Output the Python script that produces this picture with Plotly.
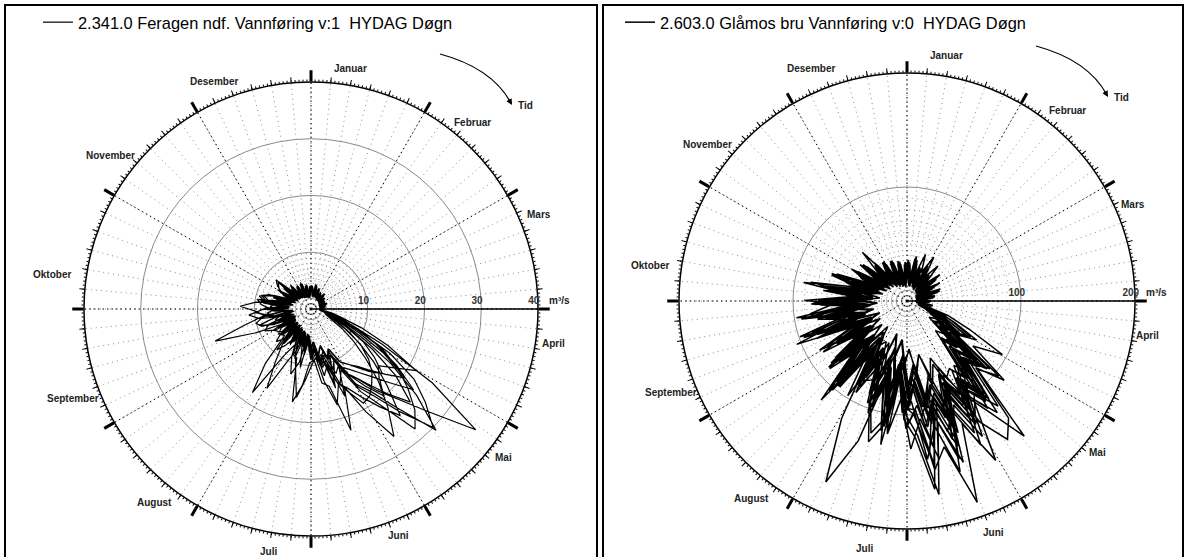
import math
import plotly.graph_objects as go

W, H = 1188, 557
FONT = "Liberation Sans, Arial, sans-serif"

MONTHS = ["Januar", "Februar", "Mars", "April", "Mai", "Juni", "Juli",
          "August", "September", "Oktober", "November", "Desember"]

FERAGEN_TITLE = "2.341.0 Feragen ndf. Vannføring v:1\u00a0 HYDAG Døgn"
GLAMOS_TITLE = "2.603.0 Glåmos bru Vannføring v:0\u00a0 HYDAG Døgn"

# first sampling day of each year (values are 5-day samples, 73 per year)
FERAGEN_START_DAY = [3, 1, 4, 2, 5, 3, 1, 4, 2, 5, 3, 1]
GLAMOS_START_DAY = [3, 1, 4, 2, 5, 3, 1, 4, 2, 5, 3, 1, 4, 2, 5, 3, 4, 2, 5, 1]

# ---- 2.341.0 Feragen ndf. (m3/s), one list per year ----
FERAGEN_Y1 = [3.8, 2.4, 4.2, 2.2, 3.6, 2.0, 3.2, 1.9, 3.4, 1.8, 2.9, 1.7, 2.7, 1.6, 2.9, 1.6, 2.5, 1.5,
              2.3, 1.6, 2.6, 3.8, 7.8, 14.0, 25.0, 36.0, 27.5, 22.0, 18.5, 15.0,
              13.0, 9.8, 12.6, 8.4, 10.2, 7.0, 8.8, 5.6, 10.5, 5.8, 7.6, 4.8,
              7.0, 4.2, 7.5, 4.4, 6.0, 3.8, 6.8, 4.0, 8.5, 4.6, 6.4, 3.6,
              7.8, 4.2, 9.0, 4.8, 7.2, 3.6, 6.0, 3.2, 6.5, 3.4, 5.2, 2.9,
              4.8, 2.6, 5.0, 2.5, 4.4, 2.3, 4.0]
FERAGEN_Y2 = [4.0, 2.3, 4.4, 2.5, 3.8, 2.1, 3.3, 1.9, 3.5, 2.0, 3.0, 1.8, 2.8, 1.7, 2.9, 1.6, 2.6, 1.5,
              2.2, 1.6, 2.4, 3.2, 4.5, 6.5, 10.5, 17.0, 24.0, 30.7, 23.0, 18.0,
              15.5, 11.0, 16.5, 10.2, 12.0, 7.8, 9.0, 5.4, 8.2, 5.0, 9.2, 5.2,
              6.6, 3.9, 7.8, 4.2, 6.8, 3.8, 6.0, 3.6, 7.2, 9.6, 6.2, 3.9,
              6.8, 4.0, 8.5, 4.6, 7.0, 3.5, 5.6, 3.0, 6.0, 3.2, 5.0, 2.8,
              4.6, 2.6, 4.8, 2.4, 4.2, 2.2, 3.9]
FERAGEN_Y3 = [3.6, 2.2, 4.0, 2.1, 3.5, 1.9, 3.0, 1.8, 3.3, 1.7, 2.8, 1.6, 2.6, 1.5, 2.8, 1.5, 2.4, 1.4,
              2.1, 1.5, 2.3, 2.6, 3.1, 4.2, 6.5, 9.5, 13.0, 17.5, 22.0, 26.8,
              20.5, 15.0, 22.5, 14.0, 13.2, 9.0, 9.5, 13.5, 16.7, 9.0, 8.6, 5.4,
              7.2, 4.4, 6.6, 3.9, 5.8, 3.6, 5.4, 3.3, 6.2, 3.6, 5.6, 3.2,
              6.4, 3.8, 8.0, 9.0, 6.6, 3.8, 6.8, 3.6, 7.6, 3.8, 5.6, 3.0,
              4.8, 2.6, 4.6, 2.4, 4.3, 2.2, 3.8]
FERAGEN_Y4 = [3.9, 2.3, 4.3, 2.4, 3.7, 2.1, 3.1, 1.9, 3.4, 1.9, 2.9, 1.7, 2.7, 1.6, 2.9, 1.7, 2.5, 1.6,
              2.4, 2.0, 3.8, 5.5, 9.5, 15.0, 21.5, 18.0, 15.5, 17.0, 20.0, 16.5,
              13.5, 9.6, 11.2, 7.8, 9.4, 6.6, 7.4, 4.6, 7.6, 4.4, 7.8, 10.0,
              16.0, 11.2, 8.0, 4.6, 6.8, 4.0, 5.8, 3.5, 6.4, 3.7, 7.6, 4.2,
              6.6, 3.8, 7.4, 4.0, 6.2, 3.4, 5.4, 3.0, 5.6, 3.0, 4.9, 2.7,
              4.4, 2.5, 4.6, 2.4, 4.1, 2.2, 3.8]
FERAGEN_Y5 = [3.7, 2.2, 4.1, 2.3, 3.5, 2.0, 3.0, 1.8, 3.3, 1.8, 2.8, 1.6, 2.6, 1.6, 2.8, 1.5, 2.4, 1.5,
              2.2, 1.7, 2.9, 3.6, 5.2, 8.0, 13.0, 19.0, 24.0, 20.0, 16.5, 14.0,
              12.5, 8.8, 13.8, 8.2, 9.0, 6.2, 7.0, 4.4, 6.8, 4.0, 6.2, 3.8,
              5.6, 3.6, 7.0, 8.4, 6.6, 3.9, 5.4, 10.5, 17.8, 12.0, 8.6, 4.6,
              6.4, 3.8, 7.6, 8.8, 6.4, 3.6, 5.7, 3.2, 5.8, 3.1, 5.0, 2.8,
              4.6, 2.5, 4.7, 2.4, 4.3, 2.2, 3.9]
FERAGEN_Y6 = [4.1, 2.4, 4.4, 2.5, 3.9, 2.2, 3.3, 2.0, 3.6, 2.0, 3.1, 1.8, 2.8, 1.7, 3.0, 1.7, 2.6, 1.6,
              2.3, 1.7, 2.6, 3.2, 4.0, 5.5, 8.0, 11.0, 13.5, 15.5, 17.0, 18.5,
              19.0, 16.0, 13.5, 9.6, 10.0, 7.0, 8.2, 5.0, 7.0, 4.4, 6.3, 7.2,
              9.5, 18.0, 12.5, 6.6, 7.0, 4.2, 5.8, 3.5, 5.6, 3.4, 6.6, 7.8,
              6.5, 3.8, 6.0, 3.5, 5.6, 3.2, 5.2, 2.9, 5.4, 2.8, 4.8, 2.6,
              4.4, 2.4, 4.5, 2.3, 4.1, 2.1, 3.8]
FERAGEN_Y7 = [3.8, 2.2, 4.2, 2.3, 3.6, 2.0, 3.1, 1.8, 3.4, 1.9, 2.9, 1.7, 2.7, 1.6, 2.9, 1.6, 2.5, 1.5,
              2.3, 1.8, 3.1, 4.2, 6.5, 10.0, 14.5, 18.5, 22.0, 25.5, 28.0, 21.0,
              17.0, 12.0, 14.2, 9.4, 10.5, 7.2, 7.8, 4.8, 7.1, 4.2, 5.9, 3.8,
              5.4, 3.4, 5.0, 3.3, 6.4, 7.2, 6.2, 3.7, 5.4, 3.5, 6.8, 8.4,
              9.6, 12.5, 9.8, 5.2, 6.6, 3.8, 5.6, 3.1, 5.4, 3.0, 4.6, 2.7,
              4.3, 2.4, 4.2, 2.3, 3.9, 2.1, 3.7]
FERAGEN_Y8 = [3.9, 2.3, 4.2, 2.4, 3.7, 2.1, 3.2, 1.9, 3.4, 1.9, 2.9, 1.7, 2.7, 1.6, 2.8, 1.6, 2.5, 1.5,
              2.2, 1.7, 2.8, 3.3, 4.6, 7.2, 11.0, 14.0, 17.0, 15.0, 13.0, 11.5,
              10.5, 7.6, 9.2, 6.8, 8.3, 5.8, 7.3, 4.6, 6.5, 4.0, 5.9, 3.6,
              5.6, 3.4, 5.4, 3.3, 6.4, 7.0, 7.6, 4.4, 9.2, 10.0, 8.6, 4.8,
              7.2, 8.8, 9.6, 5.4, 7.0, 4.0, 6.0, 7.2, 8.0, 4.2, 5.6, 3.0,
              4.7, 2.6, 4.5, 2.4, 4.2, 2.2, 3.7]
FERAGEN_Y9 = [3.8, 2.2, 4.1, 2.3, 3.6, 2.0, 3.0, 1.8, 3.3, 1.8, 2.8, 1.6, 2.6, 1.5, 2.8, 1.6, 2.4, 1.5,
              2.1, 1.6, 2.4, 2.8, 3.4, 4.6, 7.0, 10.5, 14.5, 19.0, 24.5, 21.0,
              18.0, 15.5, 14.0, 17.5, 13.0, 8.6, 10.0, 12.5, 15.8, 11.0, 8.4, 5.0,
              6.5, 4.0, 5.6, 3.6, 5.1, 3.3, 4.8, 3.0, 5.8, 6.6, 5.4, 3.2,
              5.6, 7.2, 6.4, 3.6, 5.3, 3.0, 4.8, 2.8, 5.2, 2.8, 4.4, 2.5,
              4.1, 2.3, 4.0, 2.2, 3.8, 2.0, 3.6]
FERAGEN_Y10 = [3.7, 2.1, 4.0, 2.2, 3.5, 1.9, 3.0, 1.8, 3.2, 1.7, 2.8, 1.6, 2.6, 1.5, 2.7, 1.5, 2.3, 1.4,
               2.2, 1.8, 3.4, 5.0, 8.5, 13.0, 18.0, 23.0, 19.0, 16.0, 14.0, 12.5,
               11.5, 8.0, 14.6, 8.6, 9.4, 6.2, 7.6, 4.6, 9.6, 12.0, 9.0, 5.0,
               6.4, 3.8, 5.4, 3.4, 4.9, 3.2, 4.7, 3.0, 4.5, 5.6, 7.4, 9.8,
               8.0, 4.4, 6.0, 3.6, 5.3, 3.1, 4.8, 2.8, 4.4, 2.6, 4.1, 2.4,
               3.9, 2.2, 4.1, 2.1, 3.8, 2.0, 3.5]
FERAGEN_Y11 = [4.0, 2.3, 4.3, 2.4, 3.8, 2.2, 3.2, 1.9, 3.5, 2.0, 3.0, 1.8, 2.8, 1.7, 3.0, 1.7, 2.6, 1.6,
               2.3, 1.8, 2.9, 3.9, 6.0, 9.5, 15.0, 20.5, 17.5, 15.0, 13.0, 11.8,
               10.8, 7.8, 9.4, 6.6, 8.4, 5.8, 7.6, 4.6, 6.9, 4.2, 6.4, 3.9,
               6.0, 7.8, 9.4, 5.0, 6.6, 3.9, 7.4, 9.0, 8.0, 4.6, 9.2, 11.0,
               8.6, 5.0, 8.2, 9.4, 7.8, 4.2, 6.2, 6.8, 7.4, 3.8, 5.4, 3.0,
               4.8, 2.6, 4.6, 2.4, 4.3, 2.2, 3.8]
FERAGEN_Y12 = [4.1, 2.4, 4.3, 2.5, 3.9, 2.2, 3.3, 2.0, 3.5, 1.9, 3.0, 1.8, 2.8, 1.7, 3.0, 1.6, 2.5, 1.5,
               2.2, 1.7, 2.7, 3.5, 5.5, 9.0, 16.0, 22.0, 26.0, 30.0, 24.0, 19.0,
               16.0, 11.0, 12.2, 8.4, 10.0, 7.0, 8.5, 5.2, 7.3, 4.6, 6.6, 4.0,
               6.2, 3.8, 5.8, 3.6, 5.4, 3.4, 5.2, 3.2, 4.9, 3.1, 4.7, 3.0,
               4.8, 5.6, 5.2, 3.2, 4.7, 2.9, 4.5, 2.7, 4.6, 2.6, 4.2, 2.4,
               4.0, 2.2, 3.9, 2.1, 3.7, 2.0, 3.7]

# ---- 2.603.0 Glåmos bru (m3/s), one list per year ----
GLAMOS_Y1 = [30, 16, 34, 19, 28, 14, 32, 17, 26, 13, 29, 15, 24, 12, 27, 14, 22, 11,
             18, 12, 20, 14, 26, 34, 52, 40, 88, 70, 126, 104,
             160, 118, 187, 132, 150, 96, 112, 70, 128, 64, 96, 58,
             84, 46, 102, 52, 74, 44, 66, 38, 84, 46, 58, 36,
             62, 34, 52, 30, 46, 28, 40, 24, 44, 22, 36, 20,
             32, 18, 35, 16, 30, 15, 28]
GLAMOS_Y2 = [26, 14, 31, 17, 24, 12, 29, 15, 22, 11, 27, 13, 21, 10, 25, 12, 19, 10,
             16, 11, 18, 13, 30, 46, 70, 52, 104, 86, 157, 118,
             96, 72, 124, 84, 110, 66, 92, 54, 118, 60, 88, 50,
             76, 42, 96, 48, 80, 44, 70, 40, 86, 44, 62, 36,
             76, 38, 64, 32, 50, 28, 44, 24, 40, 21, 35, 19,
             30, 17, 33, 15, 29, 14, 27]
GLAMOS_Y3 = [33, 18, 36, 20, 30, 16, 35, 18, 28, 15, 31, 16, 26, 13, 28, 15, 23, 12,
             19, 13, 21, 15, 24, 30, 38, 30, 58, 44, 86, 72,
             118, 90, 146, 104, 167, 120, 104, 62, 90, 56, 82, 48,
             70, 40, 88, 46, 68, 38, 60, 34, 78, 40, 92, 44,
             70, 36, 58, 32, 48, 26, 42, 23, 38, 20, 34, 18,
             31, 17, 34, 16, 29, 14, 27]
GLAMOS_Y4 = [29, 15, 33, 18, 27, 13, 31, 16, 25, 12, 28, 14, 23, 11, 26, 13, 21, 10,
             17, 11, 19, 13, 24, 32, 48, 36, 80, 62, 112, 90,
             124, 88, 108, 76, 96, 62, 86, 54, 104, 66, 130, 174,
             118, 60, 90, 48, 72, 40, 62, 36, 74, 40, 56, 32,
             58, 30, 66, 34, 48, 26, 40, 22, 38, 20, 33, 18,
             30, 16, 33, 15, 28, 14, 26]
GLAMOS_Y5 = [28, 14, 32, 17, 26, 13, 30, 15, 24, 12, 27, 13, 22, 10, 25, 12, 20, 9,
             15, 10, 17, 12, 22, 28, 36, 28, 60, 46, 96, 80,
             130, 100, 157, 112, 140, 88, 98, 58, 84, 52, 76, 46,
             68, 40, 86, 48, 72, 42, 72, 44, 99, 56, 97, 50,
             68, 36, 56, 30, 46, 26, 40, 22, 42, 21, 35, 18,
             31, 16, 34, 15, 29, 14, 27]
GLAMOS_Y6 = [32, 17, 35, 19, 29, 15, 33, 17, 27, 14, 30, 15, 25, 12, 28, 14, 22, 11,
             18, 12, 20, 14, 28, 36, 50, 40, 76, 60, 110, 94,
             136, 100, 126, 90, 112, 74, 96, 60, 112, 70, 92, 56,
             82, 48, 74, 44, 66, 40, 60, 36, 72, 42, 78, 46,
             82, 44, 70, 38, 70, 34, 50, 26, 44, 23, 38, 20,
             34, 18, 36, 17, 31, 15, 29]
GLAMOS_Y7 = [31, 16, 34, 18, 28, 14, 32, 16, 26, 13, 29, 14, 24, 11, 27, 13, 21, 10,
             17, 11, 19, 13, 22, 28, 40, 32, 60, 48, 82, 70,
             100, 80, 118, 92, 140, 104, 130, 86, 118, 72, 98, 60,
             84, 50, 94, 54, 78, 44, 64, 38, 72, 42, 60, 36,
             64, 34, 56, 30, 50, 27, 44, 24, 41, 22, 37, 19,
             33, 17, 35, 16, 30, 15, 28]
GLAMOS_Y8 = [34, 18, 37, 20, 31, 16, 35, 18, 29, 15, 32, 16, 27, 13, 30, 15, 24, 12,
             20, 13, 22, 15, 30, 40, 58, 46, 86, 70, 112, 92,
             104, 78, 126, 94, 136, 100, 92, 58, 80, 50, 72, 46,
             86, 52, 115, 66, 82, 46, 62, 38, 68, 40, 58, 34,
             56, 32, 68, 36, 52, 28, 45, 24, 43, 22, 38, 20,
             35, 18, 37, 17, 32, 16, 30]
GLAMOS_Y9 = [36, 20, 40, 24, 44, 28, 45, 26, 41, 22, 37, 19, 33, 16, 29, 14, 25, 12,
             21, 14, 23, 16, 30, 40, 62, 48, 92, 74, 112, 86,
             92, 64, 100, 70, 88, 56, 76, 48, 68, 42, 70, 76,
             80, 46, 66, 40, 60, 36, 58, 36, 72, 42, 62, 34,
             60, 32, 52, 28, 48, 26, 46, 26, 52, 30, 58, 28,
             40, 22, 38, 20, 36, 18, 34]
GLAMOS_Y10 = [30, 15, 28, 13, 26, 12, 25, 11, 23, 10, 22, 9, 20, 8, 19, 8, 17, 7,
              14, 8, 15, 10, 18, 24, 34, 28, 56, 44, 84, 100,
              88, 60, 76, 48, 66, 42, 58, 36, 52, 32, 60, 64,
              60, 34, 52, 30, 48, 28, 44, 26, 52, 30, 46, 26,
              42, 24, 40, 22, 36, 20, 34, 18, 32, 17, 30, 15,
              28, 14, 27, 13, 26, 12, 24]
GLAMOS_Y11 = [27, 13, 30, 15, 25, 12, 29, 14, 23, 11, 26, 12, 21, 10, 24, 11, 19, 9,
              16, 10, 18, 12, 24, 32, 50, 40, 86, 68, 104, 90,
              124, 92, 135, 100, 145, 96, 94, 60, 110, 128, 96, 58,
              80, 46, 92, 54, 90, 48, 70, 40, 64, 36, 58, 32,
              74, 38, 62, 32, 52, 28, 46, 24, 44, 22, 40, 20,
              36, 18, 35, 17, 32, 15, 30]
GLAMOS_Y12 = [30, 15, 33, 17, 27, 13, 31, 15, 25, 12, 28, 13, 23, 11, 26, 12, 21, 10,
              17, 11, 20, 16, 38, 60, 96, 70, 110, 84, 136, 150,
              124, 80, 104, 66, 90, 56, 80, 48, 72, 44, 66, 40,
              64, 38, 72, 42, 60, 36, 56, 34, 62, 38, 70, 86,
              66, 34, 56, 30, 48, 26, 43, 23, 41, 21, 38, 19,
              35, 17, 34, 16, 32, 15, 30]
GLAMOS_Y13 = [31, 16, 34, 18, 29, 14, 32, 16, 27, 13, 30, 14, 25, 12, 28, 13, 22, 11,
              17, 11, 19, 14, 26, 34, 50, 40, 76, 58, 104, 86,
              96, 70, 108, 80, 94, 66, 84, 56, 94, 60, 88, 62,
              80, 50, 94, 56, 82, 48, 88, 50, 76, 44, 94, 52,
              78, 42, 92, 48, 70, 36, 56, 30, 50, 26, 44, 22,
              40, 20, 38, 18, 35, 16, 32]
GLAMOS_Y14 = [32, 17, 35, 19, 30, 15, 33, 17, 28, 14, 31, 15, 26, 12, 29, 14, 23, 11,
              18, 12, 20, 15, 30, 40, 60, 46, 88, 70, 106, 84,
              110, 80, 118, 86, 104, 70, 96, 62, 110, 70, 100, 66,
              86, 52, 96, 58, 90, 50, 72, 42, 66, 38, 72, 40,
              64, 34, 58, 30, 52, 28, 48, 25, 46, 23, 42, 20,
              38, 19, 37, 18, 35, 16, 33]
GLAMOS_Y15 = [26, 13, 29, 15, 24, 11, 28, 13, 22, 10, 25, 11, 20, 9, 23, 10, 18, 8,
              15, 9, 16, 11, 20, 26, 36, 30, 56, 46, 84, 70,
              76, 54, 70, 48, 62, 44, 52, 34, 48, 30, 56, 40,
              46, 28, 50, 32, 48, 30, 44, 28, 56, 34, 48, 28,
              54, 30, 46, 26, 42, 24, 38, 20, 35, 18, 32, 16,
              30, 15, 29, 14, 28, 13, 26]
GLAMOS_Y16 = [28, 14, 31, 16, 26, 12, 30, 15, 24, 11, 27, 12, 22, 10, 25, 11, 20, 9,
              16, 10, 17, 12, 20, 24, 30, 24, 44, 36, 68, 86,
              104, 78, 150, 110, 172, 118, 100, 66, 104, 120, 92, 60,
              76, 46, 72, 42, 76, 44, 60, 36, 80, 44, 66, 36,
              62, 34, 72, 38, 52, 28, 46, 24, 44, 22, 40, 20,
              36, 18, 35, 17, 33, 15, 31]
GLAMOS_Y17 = [33, 17, 36, 19, 30, 15, 34, 17, 28, 14, 31, 15, 26, 12, 29, 14, 23, 11,
              19, 12, 21, 14, 26, 33, 46, 36, 70, 54, 98, 80,
              118, 84, 128, 92, 112, 76, 100, 62, 116, 74, 96, 58,
              88, 52, 104, 60, 86, 48, 80, 46, 96, 52, 84, 44,
              90, 46, 78, 40, 64, 34, 52, 28, 48, 25, 42, 22,
              38, 20, 37, 18, 34, 16, 32]
GLAMOS_Y18 = [29, 15, 32, 17, 27, 13, 31, 15, 25, 12, 28, 13, 23, 11, 26, 12, 20, 10,
              17, 11, 18, 13, 22, 30, 44, 34, 66, 52, 92, 76,
              106, 78, 120, 88, 130, 92, 108, 66, 98, 60, 104, 64,
              92, 54, 84, 48, 78, 44, 86, 48, 104, 56, 80, 42,
              84, 44, 70, 36, 58, 30, 48, 26, 45, 23, 40, 21,
              36, 18, 35, 17, 32, 15, 30]
GLAMOS_Y19 = [31, 16, 34, 18, 29, 14, 33, 16, 27, 13, 30, 14, 25, 12, 28, 13, 22, 10,
              18, 11, 20, 14, 28, 38, 56, 44, 84, 66, 118, 96,
              142, 104, 120, 86, 102, 70, 90, 56, 104, 64, 88, 54,
              98, 58, 90, 52, 80, 46, 74, 42, 88, 48, 98, 50,
              76, 40, 86, 42, 66, 34, 50, 27, 46, 24, 41, 21,
              37, 19, 36, 17, 33, 16, 31]
GLAMOS_Y20 = [34, 18, 38, 21, 32, 17, 36, 19, 30, 15, 33, 16, 28, 13, 31, 15, 25, 12,
              21, 13, 23, 16, 32, 44, 64, 50, 94, 76, 122, 100,
              116, 86, 104, 76, 96, 66, 88, 56, 80, 50, 92, 60,
              84, 50, 76, 44, 70, 40, 66, 38, 78, 44, 70, 38,
              64, 34, 74, 38, 56, 30, 46, 25, 44, 23, 40, 21,
              37, 19, 36, 18, 34, 16, 32]

FERAGEN_YEARS = [FERAGEN_Y1, FERAGEN_Y2, FERAGEN_Y3, FERAGEN_Y4, FERAGEN_Y5, FERAGEN_Y6,
                 FERAGEN_Y7, FERAGEN_Y8, FERAGEN_Y9, FERAGEN_Y10, FERAGEN_Y11, FERAGEN_Y12]
GLAMOS_YEARS = [GLAMOS_Y1, GLAMOS_Y2, GLAMOS_Y3, GLAMOS_Y4, GLAMOS_Y5, GLAMOS_Y6,
                GLAMOS_Y7, GLAMOS_Y8, GLAMOS_Y9, GLAMOS_Y10, GLAMOS_Y11, GLAMOS_Y12,
                GLAMOS_Y13, GLAMOS_Y14, GLAMOS_Y15, GLAMOS_Y16, GLAMOS_Y17, GLAMOS_Y18,
                GLAMOS_Y19, GLAMOS_Y20]

FERAGEN_RMAX, FERAGEN_RTICKS, FERAGEN_RFINE = 40, [10, 20, 30, 40], [1, 2, 3, 4, 5, 6, 7, 8, 9]
GLAMOS_RMAX, GLAMOS_RTICKS, GLAMOS_RFINE = 200, [100, 200], [10, 20, 30, 40, 50, 60, 70, 80, 90]

# month label placement around the dial (angle clockwise from top, radius in px at R=227)
MONTH_LABEL_THETA = [9.4, 40.9, 67.5, 98, 127.6, 159, 190, 219, 249.4, 277.7, 307.4, 337]
MONTH_LABEL_RADIUS = [244, 247, 247, 245, 243, 243, 246, 249, 254, 261, 253, 247]


def series(years, starts):
    r, th = [], []
    for y, s in zip(years, starts):
        days = list(range(s, s + 5 * len(y), 5))
        r += y
        th += [d * 360.0 / 365.0 for d in days]
    return r, th


def px(x):
    return x / W


def py(y):
    return 1 - y / H


NB = "\u00a0"


def polar_stack(cx, cy, R, rmax, rticks, rfine):
    dom = dict(x=[px(cx - R), px(cx + R)], y=[py(cy + R), py(cy - R)])
    ang = dict(type="linear", rotation=90, direction="clockwise", tickmode="array")
    clear = "rgba(0,0,0,0)"
    p_fine = dict(
        domain=dom, bgcolor="white",
        angularaxis=dict(**ang, tickvals=list(range(0, 360, 5)), ticks="outside", ticklen=5,
                         tickwidth=1, tickcolor="black", showticklabels=False, showgrid=True,
                         gridcolor="#8c8c8c", gridwidth=1, griddash="1px,4px", showline=False),
        radialaxis=dict(range=[0, rmax], tickmode="array", tickvals=rfine, showgrid=True,
                        gridcolor="#8c8c8c", gridwidth=1, griddash="1px,4px", showline=False,
                        showticklabels=False, ticks=""))
    p_tiny = dict(
        domain=dom, bgcolor=clear,
        angularaxis=dict(**ang, tickvals=list(range(360)), ticks="outside", ticklen=2,
                         tickwidth=1, tickcolor="black", showticklabels=False,
                         showgrid=False, showline=False),
        radialaxis=dict(visible=False, range=[0, rmax]))
    p_main = dict(
        domain=dom, bgcolor=clear,
        angularaxis=dict(**ang, tickvals=list(range(0, 360, 30)), ticks="outside", ticklen=11,
                         tickwidth=2.5, tickcolor="black", showticklabels=False, showgrid=True,
                         gridcolor="black", gridwidth=1.3, griddash="1.5px,3px", showline=True,
                         linecolor="black", linewidth=1.5),
        radialaxis=dict(range=[0, rmax], angle=0, side="counterclockwise", tickmode="array",
                        tickvals=rticks, ticktext=[f"{v}{NB * 3}" for v in rticks],
                        showgrid=True, gridcolor="#8a8a8a", gridwidth=1.2,
                        showline=True, linecolor="black", linewidth=1.5, ticks="",
                        tickfont=dict(family=FONT, size=10, color="#333", weight="bold")))
    return p_fine, p_tiny, p_main


LEFT = dict(cx=311, cy=309, R=227, label_dx=0, label_dy=0)
RIGHT = dict(cx=907, cy=301, R=228, label_dx=-3, label_dy=4)

fig = go.Figure()

for sp in ["polar", "polar2", "polar4", "polar5"]:
    fig.add_trace(go.Scatterpolar(r=[None], theta=[None], subplot=sp, mode="lines",
                                  showlegend=False, hoverinfo="skip"))

r1, t1 = series(FERAGEN_YEARS, FERAGEN_START_DAY)
fig.add_trace(go.Scatterpolar(r=r1, theta=t1, subplot="polar3", mode="lines",
                              line=dict(color="black", width=1.2), name=FERAGEN_TITLE,
                              legend="legend"))
r2, t2 = series(GLAMOS_YEARS, GLAMOS_START_DAY)
fig.add_trace(go.Scatterpolar(r=r2, theta=t2, subplot="polar6", mode="lines",
                              line=dict(color="black", width=1.5), name=GLAMOS_TITLE,
                              legend="legend2"))

lp = polar_stack(LEFT["cx"], LEFT["cy"], LEFT["R"], FERAGEN_RMAX, FERAGEN_RTICKS, FERAGEN_RFINE)
rp = polar_stack(RIGHT["cx"], RIGHT["cy"], RIGHT["R"], GLAMOS_RMAX, GLAMOS_RTICKS, GLAMOS_RFINE)

shapes = [
    dict(type="rect", xref="paper", yref="paper", x0=px(5), x1=px(597), y0=py(567), y1=py(5),
         line=dict(color="black", width=2)),
    dict(type="rect", xref="paper", yref="paper", x0=px(603), x1=px(1183), y0=py(567), y1=py(5),
         line=dict(color="black", width=2)),
]
annotations = []
small_bold = dict(family=FONT, size=10, color="#222", weight="bold")
for geo in (LEFT, RIGHT):
    cx, cy, R = geo["cx"], geo["cy"], geo["R"]
    # month names around the dial
    for name, th, rad in zip(MONTHS, MONTH_LABEL_THETA, MONTH_LABEL_RADIUS):
        rr = rad * R / 227.0
        a = math.radians(th)
        lx = cx + (rr + geo["label_dx"]) * math.sin(a)
        ly = cy - (rr + geo["label_dy"]) * math.cos(a)
        annotations.append(dict(xref="paper", yref="paper", x=px(lx), y=py(ly),
                                text=name, showarrow=False, xanchor="center", yanchor="middle",
                                font=small_bold))
    # "Tid" arrow
    x0, y0 = cx + 129, cy - 255
    xc, yc = cx + 181, cy - 241
    x1, y1 = cx + 200, cy - 206
    shapes.append(dict(type="path", xref="paper", yref="paper",
                       path=f"M {px(x0)},{py(y0)} Q {px(xc)},{py(yc)} {px(x1)},{py(y1)}",
                       line=dict(color="black", width=1.2)))
    annotations.append(dict(xref="paper", yref="paper", x=px(x1 + 1), y=py(y1 + 2), text="",
                            showarrow=True, arrowhead=2, arrowsize=1, arrowwidth=1.2,
                            standoff=0, ax=-4, ay=-7, arrowcolor="black"))
    annotations.append(dict(xref="paper", yref="paper", x=px(x1 + 5), y=py(y1 + 2), text="Tid",
                            showarrow=False, xanchor="left", yanchor="middle", font=small_bold))
    annotations.append(dict(xref="paper", yref="paper", x=px(cx + R + 9), y=py(cy - 9),
                            text="m³/s", showarrow=False, xanchor="left", yanchor="middle",
                            font=small_bold))

fig.update_layout(
    width=W, height=H, margin=dict(l=0, r=0, t=0, b=0),
    paper_bgcolor="white", plot_bgcolor="white",
    font=dict(family=FONT, color="black"),
    polar=lp[0], polar2=lp[1], polar3=lp[2],
    polar4=rp[0], polar5=rp[1], polar6=rp[2],
    showlegend=True,
    legend=dict(x=px(38), y=py(5), xanchor="left", yanchor="top", bgcolor="rgba(0,0,0,0)",
                font=dict(family=FONT, size=16.4, color="black"), borderwidth=0),
    legend2=dict(x=px(620), y=py(5), xanchor="left", yanchor="top", bgcolor="rgba(0,0,0,0)",
                 font=dict(family=FONT, size=16.4, color="black"), borderwidth=0),
    shapes=shapes, annotations=annotations,
)

fig.write_html("out.html", config={"displayModeBar": False},
               post_script="document.body.style.margin='0px';")
